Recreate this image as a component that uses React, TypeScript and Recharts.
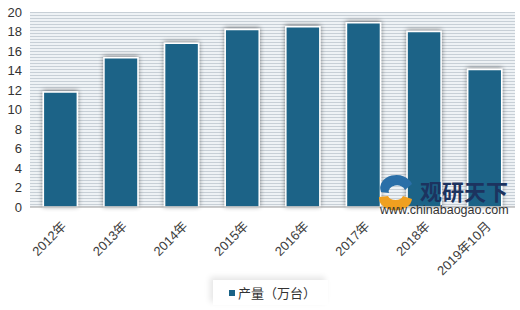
import { BarChart, Bar, XAxis, YAxis, CartesianGrid, Legend } from 'recharts'

const years = ['2012年', '2013年', '2014年', '2015年', '2016年', '2017年', '2018年', '2019年10月']
const output = [11.8, 15.3, 16.8, 18.2, 18.5, 18.9, 18.0, 14.1]
const yTicks = [0, 2, 4, 6, 8, 10, 12, 14, 16, 18, 20]
const seriesName = '产量（万台）'

const data = years.map((year, i) => ({ year, output: output[i] }))

const font = '"Liberation Sans", "Noto Sans CJK SC", sans-serif'

const XTick = (props: any) => {
  const { x, y, payload } = props
  return (
    <g transform={`translate(${x + 7},${y + 12})`}>
      <text transform="rotate(-45)" textAnchor="end" fontSize={13} fill="#404040" fontFamily={font}>
        {payload.value}
      </text>
    </g>
  )
}

const LegendBox = () => (
  <div style={{ display: 'flex', justifyContent: 'center' }}>
    <div
      style={{
        display: 'flex',
        alignItems: 'center',
        padding: '3px 12px 3px 16px',
        marginLeft: 26,
        boxShadow: '-3px -3px 6px rgba(0,0,0,0.10)',
        fontFamily: font,
        fontSize: 13,
        color: '#333',
      }}
    >
      <span style={{ width: 6, height: 6, background: '#1a6387', marginRight: 3, display: 'inline-block' }} />
      {seriesName}
    </div>
  </div>
)

export default function App() {
  return (
    <div style={{ position: 'absolute', left: 0, top: 0, width: 520, height: 310, background: '#fff' }}>
      <BarChart
        width={520}
        height={310}
        data={data}
        margin={{ top: 12, right: 5, bottom: 0, left: 0 }}
        barCategoryGap="22%"
      >
        <defs>
          <pattern id="stripes" width="6" height="3" patternUnits="userSpaceOnUse">
            <rect width="6" height="3" fill="#eef2f5" />
            <rect width="6" height="1" fill="#c7cfd6" />
          </pattern>
          <filter id="barShadow" x="-30%" y="-10%" width="160%" height="120%">
            <feGaussianBlur in="SourceAlpha" stdDeviation="2.5" />
            <feOffset dx="0" dy="-1" result="blur" />
            <feComponentTransfer>
              <feFuncA type="linear" slope="0.45" />
            </feComponentTransfer>
            <feMerge>
              <feMergeNode />
              <feMergeNode in="SourceGraphic" />
            </feMerge>
          </filter>
        </defs>
        <CartesianGrid vertical={false} horizontal={false} fill="url(#stripes)" />
        <XAxis
          dataKey="year"
          interval={0}
          tickLine={false}
          axisLine={{ stroke: '#9a9a9a' }}
          tick={<XTick />}
          height={73}
        />
        <YAxis
          domain={[0, 20]}
          ticks={yTicks}
          interval={0}
          width={30}
          axisLine={false}
          tickLine={false}
          tick={{ fontSize: 13, fill: '#333', fontFamily: font }}
        />
        <Legend verticalAlign="bottom" height={30} content={<LegendBox />} />
        <Bar
          dataKey="output"
          name={seriesName}
          fill="#1a6387"
          stroke="#ffffff"
          strokeWidth={1.5}
          filter="url(#barShadow)"
          isAnimationActive={false}
        />
      </BarChart>
      {/* watermark */}
      <svg
        width={146}
        height={50}
        style={{ position: 'absolute', left: 374, top: 172, overflow: 'visible', pointerEvents: 'none' }}
      >
        <path d="M7 20 A15 12 0 0 1 38 12 L31 18 A8 6 0 0 0 15 21 Z" fill="#2a6fa8" />
        <path d="M5 25 A16 12 0 0 0 38 27 L29 24 A8 6 0 0 1 14 24 Z" fill="#f0a020" />
        <text x={46} y={28} fontSize={22} fontWeight="bold" fill="#1c335f" fontFamily='"Noto Sans CJK SC", sans-serif'>
          观研天下
        </text>
        <text x={6} y={42} fontSize={12.5} fill="#333" fontFamily='"Liberation Sans", sans-serif'>
          www.chinabaogao.com
        </text>
      </svg>
    </div>
  )
}
